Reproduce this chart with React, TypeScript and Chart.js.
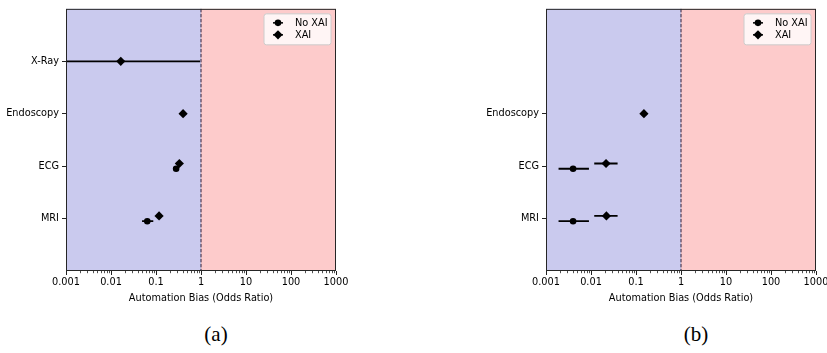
import React, { useEffect, useRef } from 'react';
import { Chart, registerables } from 'chart.js';

Chart.register(...registerables);

// ---------- data ----------
const categories = ['MRI', 'ECG', 'Endoscopy', 'X-Ray'];
const seriesNames = ['No XAI', 'XAI'];
const xTickValues = [0.001, 0.01, 0.1, 1, 10, 100, 1000];
const xTickLabels = ['0.001', '0.01', '0.1', '1', '10', '100', '1000'];
const xTitle = 'Automation Bias (Odds Ratio)';

// panel (a)
const aCategoryTicks = [0, 1, 2, 3];
const aNoXai = [0.064, 0.28, null, null];
const aNoXaiLo = [0.049, 0.25, null, null];
const aNoXaiHi = [0.087, 0.32, null, null];
const aXai = [0.117, 0.33, 0.4, 0.0165];
const aXaiLo = [0.105, 0.3, 0.37, 0.0001];
const aXaiHi = [0.13, 0.37, 0.43, 0.95];

// panel (b)
const bCategoryTicks = [0, 1, 2];
const bNoXai = [0.004, 0.004, null, null];
const bNoXaiLo = [0.0019, 0.0019, null, null];
const bNoXaiHi = [0.009, 0.009, null, null];
const bXai = [0.022, 0.0216, 0.15, null];
const bXaiLo = [0.0118, 0.0118, 0.14, null];
const bXaiHi = [0.039, 0.039, 0.16, null];

// ---------- styling ----------
const FONT = 'DejaVu Sans';
const FS = 9.75;
const BLUE = '#cacaee';
const RED = '#fdcbcb';
const OFFSET = 0.05;

type Pt = { x: number; y: number; lo: number; hi: number };

function buildPoints(
  vals: (number | null)[],
  lo: (number | null)[],
  hi: (number | null)[],
  other: (number | null)[],
  sign: number
): Pt[] {
  const out: Pt[] = [];
  vals.forEach((v, i) => {
    if (v == null) return;
    const off = other[i] != null ? sign * OFFSET : 0;
    out.push({ x: v, y: i + off, lo: lo[i] as number, hi: hi[i] as number });
  });
  return out;
}

const forestPlugin = {
  id: 'forest',
  beforeDatasetsDraw(chart: any) {
    const { ctx, chartArea: ca, scales } = chart;
    const xs = scales.x;
    const ys = scales.y;
    const x1 = xs.getPixelForValue(1);
    ctx.save();
    ctx.fillStyle = BLUE;
    ctx.fillRect(ca.left, ca.top, x1 - ca.left, ca.bottom - ca.top);
    ctx.fillStyle = RED;
    ctx.fillRect(x1, ca.top, ca.right - x1, ca.bottom - ca.top);
    // dashed reference line at OR = 1
    ctx.beginPath();
    ctx.setLineDash([3.5, 1.5]);
    ctx.strokeStyle = '#2b1f3a';
    ctx.lineWidth = 1;
    ctx.moveTo(x1, ca.top);
    ctx.lineTo(x1, ca.bottom);
    ctx.stroke();
    ctx.setLineDash([]);
    // error bars
    ctx.beginPath();
    ctx.rect(ca.left, ca.top, ca.right - ca.left, ca.bottom - ca.top);
    ctx.clip();
    ctx.strokeStyle = '#000';
    ctx.lineWidth = 1.8;
    chart.data.datasets.forEach((ds: any) => {
      ds.data.forEach((p: Pt) => {
        const py = ys.getPixelForValue(p.y);
        const xl = xs.getPixelForValue(p.lo);
        const xh = xs.getPixelForValue(p.hi);
        ctx.beginPath();
        ctx.moveTo(xl, py);
        ctx.lineTo(xh, py);
        ctx.stroke();
      });
    });
    ctx.restore();
  },
  afterDraw(chart: any) {
    const { ctx, chartArea: ca, scales } = chart;
    const xs = scales.x;
    ctx.save();
    // minor ticks
    ctx.strokeStyle = '#222';
    ctx.lineWidth = 0.8;
    for (let d = -3; d < 3; d++) {
      for (let m = 2; m < 10; m++) {
        const px = Math.round(xs.getPixelForValue(m * Math.pow(10, d))) + 0.5;
        ctx.beginPath();
        ctx.moveTo(px, ca.bottom);
        ctx.lineTo(px, ca.bottom + 2.2);
        ctx.stroke();
      }
    }
    // frame
    ctx.strokeStyle = '#262626';
    ctx.lineWidth = 1;
    ctx.strokeRect(ca.left + 0.5, ca.top + 0.5, ca.right - ca.left - 1, ca.bottom - ca.top - 1);
    // legend
    const bw = 67;
    const bh = 31;
    const bx = ca.right - 5 - bw;
    const by = ca.top + 5;
    ctx.beginPath();
    const r = 2.5;
    ctx.moveTo(bx + r, by);
    ctx.lineTo(bx + bw - r, by);
    ctx.quadraticCurveTo(bx + bw, by, bx + bw, by + r);
    ctx.lineTo(bx + bw, by + bh - r);
    ctx.quadraticCurveTo(bx + bw, by + bh, bx + bw - r, by + bh);
    ctx.lineTo(bx + r, by + bh);
    ctx.quadraticCurveTo(bx, by + bh, bx, by + bh - r);
    ctx.lineTo(bx, by + r);
    ctx.quadraticCurveTo(bx, by, bx + r, by);
    ctx.closePath();
    ctx.fillStyle = 'rgba(255,255,255,0.8)';
    ctx.fill();
    ctx.strokeStyle = '#cccccc';
    ctx.lineWidth = 1;
    ctx.stroke();
    chart.data.datasets.forEach((ds: any, i: number) => {
      const cy = by + 9 + i * 12;
      const cx = bx + 14;
      ctx.strokeStyle = '#000';
      ctx.lineWidth = 1.5;
      ctx.beginPath();
      ctx.moveTo(cx - 5, cy);
      ctx.lineTo(cx + 5, cy);
      ctx.stroke();
      ctx.fillStyle = '#000';
      ctx.beginPath();
      if (ds.pointStyle === 'circle') {
        ctx.arc(cx, cy, ds.pointRadius, 0, Math.PI * 2);
      } else {
        const rr = ds.pointRadius;
        ctx.moveTo(cx - rr, cy);
        ctx.lineTo(cx, cy - rr);
        ctx.lineTo(cx + rr, cy);
        ctx.lineTo(cx, cy + rr);
        ctx.closePath();
      }
      ctx.fill();
      ctx.font = `${FS}px "${FONT}"`;
      ctx.textBaseline = 'middle';
      ctx.textAlign = 'left';
      ctx.fillText(ds.label, bx + 31, cy + 0.5);
    });
    ctx.restore();
  },
};

type PanelProps = {
  width: number;
  height: number;
  padRight: number;
  catTicks: number[];
  noXai: (number | null)[];
  noLo: (number | null)[];
  noHi: (number | null)[];
  xai: (number | null)[];
  xLo: (number | null)[];
  xHi: (number | null)[];
};

function Panel(props: PanelProps) {
  const ref = useRef<HTMLCanvasElement | null>(null);
  useEffect(() => {
    if (!ref.current) return;
    const chart = new Chart(ref.current, {
      type: 'scatter',
      data: {
        datasets: [
          {
            label: seriesNames[0],
            data: buildPoints(props.noXai, props.noLo, props.noHi, props.xai, -1) as any,
            pointStyle: 'circle',
            pointRadius: 3.3,
            backgroundColor: '#000',
            borderColor: '#000',
            borderWidth: 0,
          },
          {
            label: seriesNames[1],
            data: buildPoints(props.xai, props.xLo, props.xHi, props.noXai, 1) as any,
            pointStyle: 'rectRot',
            pointRadius: 4.6,
            backgroundColor: '#000',
            borderColor: '#000',
            borderWidth: 0,
          },
        ],
      },
      options: {
        responsive: false,
        animation: false,
        devicePixelRatio: 1,
        layout: { padding: { left: 0, right: props.padRight, top: 8, bottom: 0 } },
        plugins: {
          legend: { display: false },
          tooltip: { enabled: false },
        },
        scales: {
          x: {
            type: 'logarithmic',
            position: 'bottom',
            min: 0.001,
            max: 1000,
            afterBuildTicks: (scale: any) => {
              scale.ticks = xTickValues.map((v) => ({ value: v }));
            },
            afterFit: (scale: any) => {
              scale.height = 39;
            },
            ticks: {
              autoSkip: false,
              maxRotation: 0,
              padding: 2,
              color: '#000',
              font: { family: FONT, size: FS },
              callback: (v: any) => {
                const i = xTickValues.findIndex((t) => Math.abs(t - v) / t < 1e-6);
                return i >= 0 ? xTickLabels[i] : '';
              },
            },
            grid: {
              display: true,
              drawOnChartArea: false,
              drawTicks: true,
              tickLength: 4,
              color: '#222',
              lineWidth: 1,
            },
            border: { display: false },
            title: {
              display: true,
              text: xTitle,
              color: '#000',
              font: { family: FONT, size: FS },
              padding: { top: 0, bottom: 6 },
            },
          },
          y: {
            type: 'linear',
            min: -1,
            max: 4,
            afterBuildTicks: (scale: any) => {
              scale.ticks = props.catTicks.map((v) => ({ value: v }));
            },
            afterFit: (scale: any) => {
              scale.width = 66;
            },
            ticks: {
              autoSkip: false,
              padding: 3,
              color: '#000',
              font: { family: FONT, size: FS },
              callback: (v: any) => categories[Math.round(v)] ?? '',
            },
            grid: {
              display: true,
              drawOnChartArea: false,
              drawTicks: true,
              tickLength: 4,
              color: '#222',
              lineWidth: 1,
            },
            border: { display: false },
          },
        },
      },
      plugins: [forestPlugin],
    } as any);
    return () => chart.destroy();
  }, []);
  return (
    <canvas
      ref={ref}
      width={props.width}
      height={props.height}
      style={{ width: props.width, height: props.height, display: 'block' }}
    />
  );
}

const captionStyle: React.CSSProperties = {
  position: 'absolute',
  top: 323,
  width: 60,
  textAlign: 'center',
  fontFamily: '"Liberation Serif", serif',
  fontSize: 21,
  lineHeight: '22px',
  color: '#000',
};

export default function App() {
  return (
    <div
      style={{
        position: 'fixed',
        left: 0,
        top: 0,
        width: 827,
        height: 353,
        background: '#fff',
        overflow: 'hidden',
      }}
    >
      <div style={{ position: 'absolute', left: 0, top: 0 }}>
        <Panel
          width={413}
          height={310}
          padRight={77}
          catTicks={aCategoryTicks}
          noXai={aNoXai}
          noLo={aNoXaiLo}
          noHi={aNoXaiHi}
          xai={aXai}
          xLo={aXaiLo}
          xHi={aXaiHi}
        />
      </div>
      <div style={{ position: 'absolute', left: 480, top: 0 }}>
        <Panel
          width={362}
          height={310}
          padRight={26}
          catTicks={bCategoryTicks}
          noXai={bNoXai}
          noLo={bNoXaiLo}
          noHi={bNoXaiHi}
          xai={bXai}
          xLo={bXaiLo}
          xHi={bXaiHi}
        />
      </div>
      <div style={{ ...captionStyle, left: 186 }}>(a)</div>
      <div style={{ ...captionStyle, left: 666 }}>(b)</div>
    </div>
  );
}
